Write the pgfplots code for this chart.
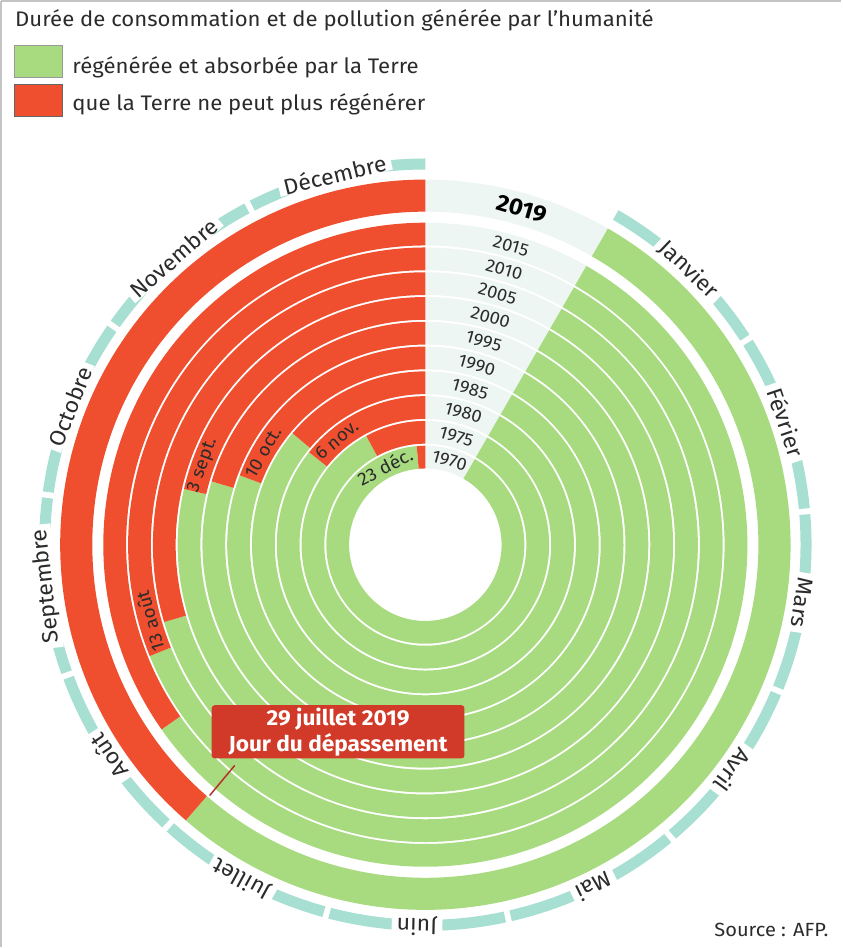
\documentclass[border=0pt]{standalone}
\usepackage{pgfplots}
\pgfplotsset{compat=1.18}
\usepackage{pgfplotstable}
\usepackage{fontspec}
\setmainfont{Fira Sans}[FakeStretch=1.05]
\definecolor{cgreen}{HTML}{A8DB80}
\definecolor{cred}{HTML}{EF4F2E}
\definecolor{cteal}{HTML}{A7DFD3}
\definecolor{cgray}{HTML}{EEF6F3}
\definecolor{cbox}{HTML}{D13A28}
\definecolor{cline}{HTML}{B83226}
\definecolor{ctext}{HTML}{2B2B2B}
\definecolor{cframe}{HTML}{C4C4C4}

% annular sector mark: math angles \sA -> \sB, radii \rI, \rO (pt)
\pgfdeclareplotmark{sector}{%
  \pgfpathmoveto{\pgfpointpolar{\sA}{\rO pt}}%
  \pgfpatharc{\sA}{\sB}{\rO pt}%
  \pgfpathlineto{\pgfpointpolar{\sB}{\rI pt}}%
  \pgfpatharc{\sB}{\sA}{\rI pt}%
  \pgfpathclose
  \pgfusepathqfill
}

% tb = overshoot position (deg clockwise from top), phi = 90 - tb
\pgfplotstableread{
x y year ri ro tb phi
0 0 1970 76.0 98.7 355 -265
0 0 1975 100.7 123.4 331.5 -241.5
0 0 1980 125.4 148.1 308.5 -218.5
0 0 1985 150.1 172.8 310 -220
0 0 1990 174.8 197.5 290.5 -200.5
0 0 1995 199.5 222.2 286.5 -196.5
0 0 2000 224.2 246.9 283 -193
0 0 2005 248.9 271.6 253.5 -163.5
0 0 2010 273.6 296.3 248 -158
0 0 2015 298.3 321.0 235 -145
0 0 2019 332.0 364.0 221 -131
}\rings

\pgfplotstableread{
x y month pa pb
0 0 1 60 32.95
0 0 2 32.05 5.45
0 0 3 4.55 -22.05
0 0 4 -22.95 -49.55
0 0 5 -50.45 -77.05
0 0 6 -77.95 -104.55
0 0 7 -105.45 -132.05
0 0 8 -132.95 -159.55
0 0 9 -160.45 -187.05
0 0 10 -187.95 -214.55
0 0 11 -215.45 -242.05
0 0 12 -242.95 -270
}\months

\begin{document}
\begin{tikzpicture}
\begin{axis}[x=1pt, y=1pt, xmin=-428, xmax=414, ymin=-401, ymax=547,
  hide axis, clip=false]
% month band
\addplot[only marks, mark=sector, mark options={draw=none, fill=cteal},
  visualization depends on={\thisrow{pa} \as \sA},
  visualization depends on={\thisrow{pb} \as \sB},
  visualization depends on={374 \as \rI},
  visualization depends on={385 \as \rO}] table[x=x,y=y] {\months};
% label sector (grey)
\addplot[only marks, mark=sector, mark options={draw=none, fill=cgray},
  visualization depends on={90 \as \sA},
  visualization depends on={60 \as \sB},
  visualization depends on={\thisrow{ri} \as \rI},
  visualization depends on={\thisrow{ro} \as \rO}] table[x=x,y=y] {\rings};
% regenerated (green)
\addplot[only marks, mark=sector, mark options={draw=none, fill=cgreen},
  visualization depends on={60 \as \sA},
  visualization depends on={\thisrow{phi} \as \sB},
  visualization depends on={\thisrow{ri} \as \rI},
  visualization depends on={\thisrow{ro} \as \rO}] table[x=x,y=y] {\rings};
% overshoot (red)
\addplot[only marks, mark=sector, mark options={draw=none, fill=cred},
  visualization depends on={\thisrow{phi} \as \sA},
  visualization depends on={-270 \as \sB},
  visualization depends on={\thisrow{ri} \as \rI},
  visualization depends on={\thisrow{ro} \as \rO}] table[x=x,y=y] {\rings};
\coordinate (O) at (axis cs:0,0);
\end{axis}
\begin{scope}[shift={(O)}, x=1pt, y=1pt]
% frame
\draw[cframe, line width=2pt] (-423,542) -- (414,542);
\draw[cframe, line width=2pt] (-423,542) -- (-423,-401);
% title and legend
\node[anchor=base west, text=ctext, font=\fontsize{21}{21}\selectfont, inner sep=0pt] at (-409,517) {Durée de consommation et de pollution générée par l’humanité};
\draw[fill=cgreen, draw=black!40, line width=1pt] (-410,498) rectangle (-362,466);
\draw[fill=cred, draw=black!60, line width=1pt] (-410,459) rectangle (-362,427);
\node[anchor=base west, text=ctext, font=\fontsize{21}{21}\selectfont, inner sep=0pt] at (-352,470) {régénérée et absorbée par la Terre};
\node[anchor=base west, text=ctext, font=\fontsize{21}{21}\selectfont, inner sep=0pt] at (-352,433) {que la Terre ne peut plus régénérer};
% month labels
\foreach \m/\t in {Janvier/43.75, Février/71.25, Mars/98.75, Avril/126.25, Mai/153.75, Juin/181.25, Juillet/208.75, Août/236.25, Septembre/263.75, Octobre/291.25, Novembre/318.75, Décembre/346.25}
  {\node[rotate=-\t, fill=white, inner xsep=5pt, inner ysep=0pt, text=ctext, font=\fontsize{22}{22}\selectfont] at ({90-\t}:380) {\m};}
% year labels
\foreach \yr/\r in {1970/87.4, 1975/112.1, 1980/136.8, 1985/161.5, 1990/186.2, 1995/210.9, 2000/235.6, 2005/260.3, 2010/285.0, 2015/309.7}
  {\node[rotate=-16, text=ctext, inner sep=0pt, font=\fontsize{17.5}{17.5}\selectfont] at (74:\r) {\yr};}
\node[rotate=-16, text=black, inner sep=0pt, font=\bfseries\fontsize{23}{23}\selectfont] at (74:348) {2019};
% date labels
\node[rotate=27.5, text=ctext, inner sep=0pt, font=\fontsize{18}{18}\selectfont] at ({90-332.5}:87.4) {23 déc.};
\node[rotate=40.2, text=ctext, inner sep=0pt, font=\fontsize{18}{18}\selectfont] at ({90-319.8}:136.8) {6 nov.};
\node[rotate=60.3, text=ctext, inner sep=0pt, font=\fontsize{18}{18}\selectfont] at ({90-299.7}:186.2) {10 oct.};
\node[rotate=70.3, text=ctext, inner sep=0pt, font=\fontsize{18}{18}\selectfont] at ({90-289.7}:235.6) {3 sept.};
\node[rotate=105.5, text=ctext, inner sep=0pt, font=\fontsize{18}{18}\selectfont] at ({90-254.5}:285.0) {13 août};
% callout
\draw[cline, line width=1.5pt] (-190,-220) -- (-215,-250);
\node[fill=cbox, rounded corners=3pt, minimum width=252pt, minimum height=53pt, text=white, align=center, inner sep=0pt, font=\bfseries\fontsize{21.5}{26}\selectfont] at (-87,-186.5) {29 juillet 2019\\Jour du dépassement};
% source
\node[anchor=base east, text=ctext, inner sep=0pt, font=\fontsize{19}{19}\selectfont] at (402,-391) {Source : AFP.};
\end{scope}
\end{tikzpicture}
\end{document}
